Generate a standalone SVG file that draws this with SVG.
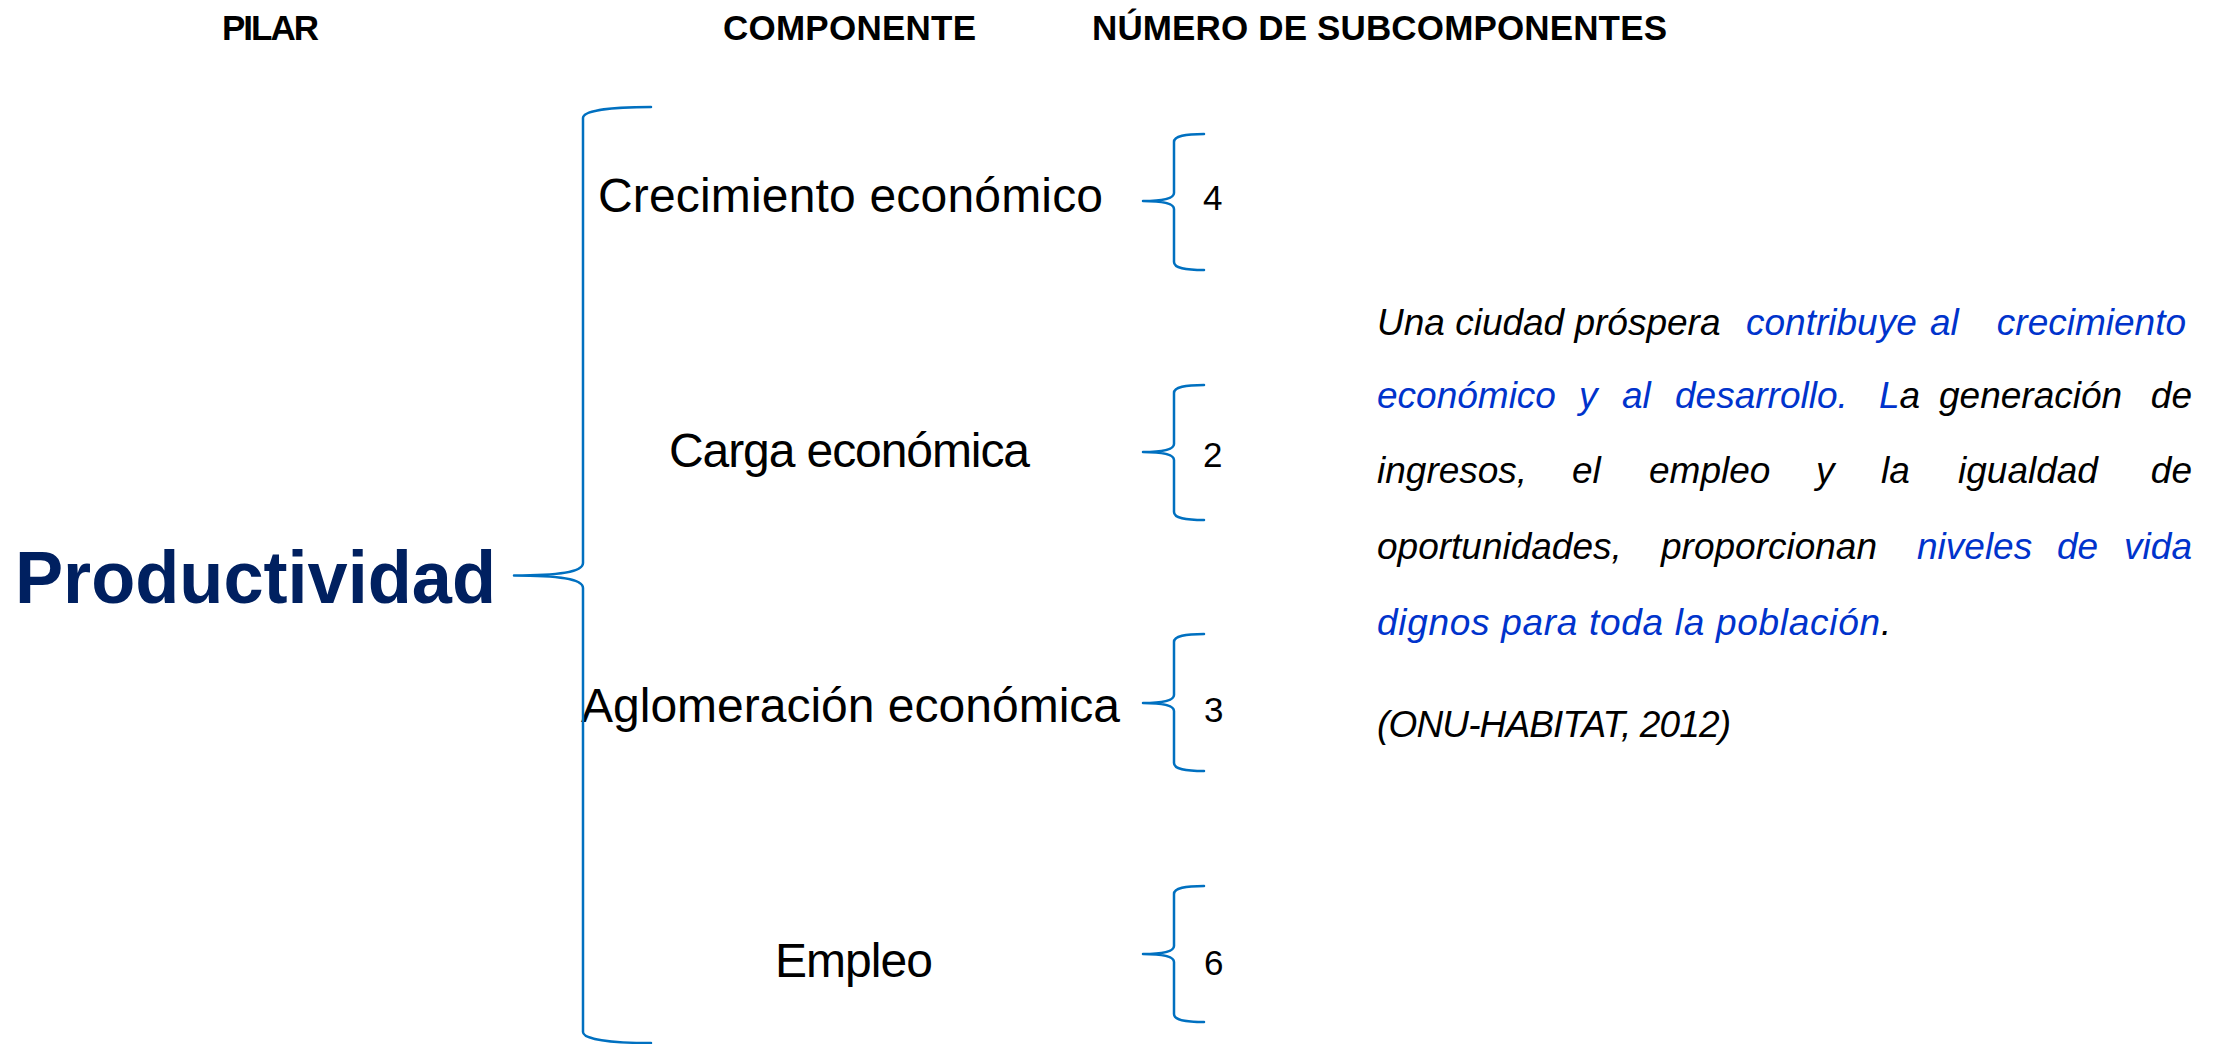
<svg xmlns="http://www.w3.org/2000/svg" width="2217" height="1044" viewBox="0 0 2217 1044">
<style>
.hdr{font-family:"Liberation Sans",Arial,sans-serif;font-weight:bold;font-size:35px;fill:#000}
.pil{font-family:"Liberation Sans",Arial,sans-serif;font-weight:bold;font-size:75px;fill:#002060}
.comp{font-family:"Liberation Sans",Arial,sans-serif;font-size:48px;fill:#000}
.num{font-family:"Liberation Sans",Arial,sans-serif;font-size:35px;fill:#000}
.par{font-family:"Liberation Sans",Arial,sans-serif;font-style:italic;font-size:37px;fill:#000}
.blue{fill:#0033CC}
.brace{fill:none;stroke:#0070C0;stroke-width:2.5;stroke-linecap:round;stroke-linejoin:round}
</style>
<rect width="2217" height="1044" fill="#fff"/>
<g id="headers">
<text class="hdr" x="222" y="40" textLength="97">PILAR</text>
<text class="hdr" x="723" y="40" textLength="253">COMPONENTE</text>
<text class="hdr" x="1092" y="40" textLength="575">NÚMERO DE SUBCOMPONENTES</text>
</g>
<g id="pilar"><text class="pil" x="15" y="603" textLength="481" lengthAdjust="spacingAndGlyphs">Productividad</text></g>
<g id="comp-crecimiento"><text class="comp" x="598" y="212" textLength="505">Crecimiento económico</text></g>
<g id="comp-carga"><text class="comp" x="669" y="467" textLength="361">Carga económica</text></g>
<g id="comp-aglomeracion"><text class="comp" x="581" y="722" textLength="539">Aglomeración económica</text></g>
<g id="comp-empleo"><text class="comp" x="775" y="977" textLength="158">Empleo</text></g>
<g id="num-4"><text class="num" x="1203" y="210">4</text></g>
<g id="num-2"><text class="num" x="1203" y="467">2</text></g>
<g id="num-3"><text class="num" x="1204" y="722">3</text></g>
<g id="num-6"><text class="num" x="1204" y="975">6</text></g>
<g id="connectors">
<path class="brace" d="M651,107 C610,107 583,111 583,118 L583,563 C583,572 560,575.5 514,575.5 M514,575.5 C560,575.5 583,579 583,588 L583,1032 C583,1039 610,1043 651,1043"/>
<path class="brace" d="M1204,134 C1185,134 1174,136 1174,142 L1174,193 C1174,198 1165,201 1143,201 M1143,201 C1165,201 1174,204 1174,209 L1174,262 C1174,268 1185,270 1204,270"/>
<path class="brace" d="M1204,385 C1185,385 1174,387 1174,393 L1174,444 C1174,449 1165,452 1143,452 M1143,452 C1165,452 1174,455 1174,460 L1174,512 C1174,518 1185,520 1204,520"/>
<path class="brace" d="M1204,634 C1185,634 1174,636 1174,642 L1174,695 C1174,700 1165,703 1143,703 M1143,703 C1165,703 1174,706 1174,711 L1174,763 C1174,769 1185,771 1204,771"/>
<path class="brace" d="M1204,886 C1185,886 1174,888 1174,894 L1174,946 C1174,951 1165,954 1143,954 M1143,954 C1165,954 1174,957 1174,962 L1174,1014 C1174,1020 1185,1022 1204,1022"/>
</g>
<g id="quote">
<text class="par" x="1377" y="335">Una ciudad próspera</text>
<text class="par blue" x="1746" y="335">contribuye</text>
<text class="par blue" x="1930" y="335">al</text>
<text class="par blue" x="2186" y="335" text-anchor="end">crecimiento</text>

<text class="par blue" x="1377" y="408">económico</text>
<text class="par blue" x="1579" y="408">y</text>
<text class="par blue" x="1622" y="408">al</text>
<text class="par blue" x="1675" y="408">desarrollo.</text>
<text class="par" x="1879" y="408"><tspan class="blue">L</tspan>a</text>
<text class="par" x="1939" y="408">generación</text>
<text class="par" x="2192" y="408" text-anchor="end">de</text>

<text class="par" x="1377" y="483">ingresos,</text>
<text class="par" x="1572" y="483">el</text>
<text class="par" x="1649" y="483">empleo</text>
<text class="par" x="1816" y="483">y</text>
<text class="par" x="1881" y="483">la</text>
<text class="par" x="1958" y="483">igualdad</text>
<text class="par" x="2192" y="483" text-anchor="end">de</text>

<text class="par" x="1377" y="559">oportunidades,</text>
<text class="par" x="1661" y="559">proporcionan</text>
<text class="par blue" x="1917" y="559">niveles</text>
<text class="par blue" x="2057" y="559">de</text>
<text class="par blue" x="2192" y="559" text-anchor="end">vida</text>

<text class="par blue" x="1377" y="635" textLength="503">dignos para toda la población</text>
<text class="par" x="1881" y="635">.</text>

<text class="par" x="1377" y="737" textLength="354">(ONU-HABITAT, 2012)</text>
</g>
</svg>
